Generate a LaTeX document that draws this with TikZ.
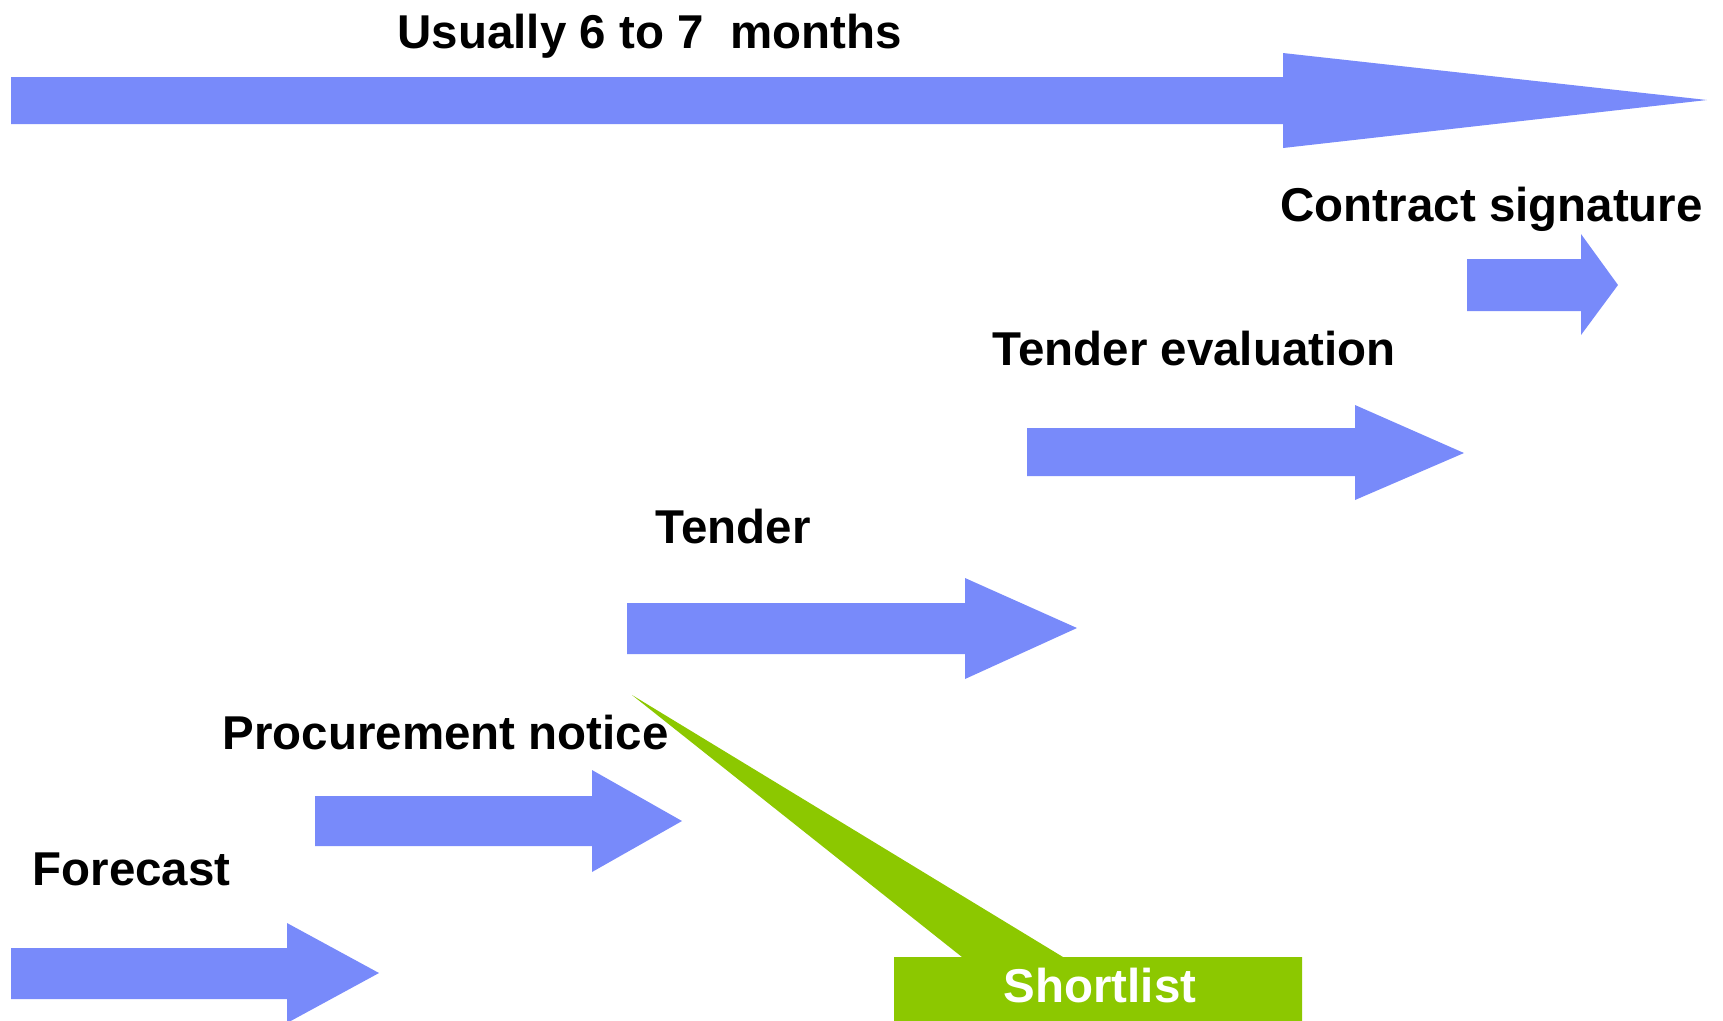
\documentclass[tikz,border=0pt]{standalone}
\usepackage{fontspec}
\setmainfont{Liberation Sans}
\usepackage{xcolor}
\usepackage{tikz}

\definecolor{stepblue}{RGB}{120,138,250}
\definecolor{shortgreen}{RGB}{140,200,0}

\begin{document}
\begin{tikzpicture}[x=0.01cm,y=-0.01cm,
    every node/.style={inner sep=0pt,anchor=base west,font=\fontsize{13.5}{16}\selectfont\bfseries},
    bluearrow/.style={fill=stepblue},
    callout/.style={fill=shortgreen}]
  \useasboundingbox (0,0) rectangle (1723,1020);
  \clip (0,0) rectangle (1723,1020);
  % overall duration
  \fill[bluearrow] (11,77) -- (1283,77) -- (1283,53) -- (1707,100) -- (1283,148) -- (1283,124) -- (11,124) -- cycle;
  \node (months) at (397,48) {Usually 6 to 7 \ months};
  % steps
  \fill[bluearrow] (1467,259) -- (1581,259) -- (1581,234) -- (1618,285) -- (1581,335) -- (1581,311) -- (1467,311) -- cycle;
  \node (contract) at (1280,221) {Contract signature};
  \fill[bluearrow] (1027,428) -- (1355,428) -- (1355,405) -- (1464,453) -- (1355,500) -- (1355,476) -- (1027,476) -- cycle;
  \node (evaluation) at (992,365) {Tender evaluation};
  \fill[bluearrow] (627,603) -- (965,603) -- (965,578) -- (1077,628) -- (965,679) -- (965,654) -- (627,654) -- cycle;
  \node (tender) at (655,543) {Tender};
  \fill[bluearrow] (315,796) -- (592,796) -- (592,770) -- (682,821) -- (592,872) -- (592,846) -- (315,846) -- cycle;
  \node (notice) at (222,749) {Procurement notice};
  \fill[bluearrow] (11,948) -- (287,948) -- (287,923) -- (379,973) -- (287,1023) -- (287,999) -- (11,999) -- cycle;
  \node (forecast) at (32,885) {Forecast};
  % shortlist callout
  \fill[callout] (632,695) -- (1063,957) -- (1302,957) -- (1302,1025) -- (894,1025) -- (894,957) -- (962,957) -- cycle;
  \node[text=white] (shortlist) at (1003,1002) {Shortlist};
\end{tikzpicture}
\end{document}
